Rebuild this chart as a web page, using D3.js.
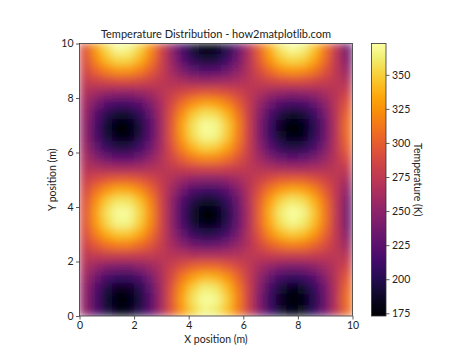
<!DOCTYPE html>
<html>
<head>
<meta charset="utf-8">
<script src="https://cdn.jsdelivr.net/npm/d3@7"></script>
<style>
  html, body { margin: 0; padding: 0; background: #fff; }
  svg text { font-family: Lato, "Open Sans", "DejaVu Sans", sans-serif; fill: #222; }
</style>
</head>
<body>
<svg id="chart" width="474" height="355"></svg>
<script>
// cell centres (m), 0.4 m cells
const xCenters = [0.2,0.6,1.0,1.4,1.8,2.2,2.6,3.0,3.4,3.8,4.2,4.6,5.0,5.4,5.8,6.2,6.6,7.0,7.4,7.8,8.2,8.6,9.0,9.4,9.8];
// rows listed from top (y = 9.8) down to bottom (y = 0.2)
const yCenters = [9.8,9.4,9.0,8.6,8.2,7.8,7.4,7.0,6.6,6.2,5.8,5.4,5.0,4.6,4.2,3.8,3.4,3.0,2.6,2.2,1.8,1.4,1.0,0.6,0.2];

// temperature (K), one row per yCenter
const temps = [
  [293,328,355,370,368,352,324,287,248,213,188,176,179,197,227,265,304,337,361,371,365,345,313,275,237],
  [289,320,342,354,353,340,316,285,252,223,201,191,194,209,235,266,299,327,347,355,351,334,307,275,243],
  [284,304,318,326,326,317,301,281,259,240,226,219,221,231,248,269,290,308,322,327,324,313,295,274,253],
  [276,283,287,290,290,287,282,275,269,263,258,256,257,260,265,272,278,284,288,290,289,285,280,273,267],
  [268,260,254,251,251,255,261,270,279,287,293,296,295,291,284,275,266,258,253,250,252,256,264,272,281],
  [261,240,223,215,216,225,243,265,288,309,324,332,329,319,300,278,255,234,220,214,218,230,249,272,295],
  [256,225,201,189,190,204,229,261,295,325,348,358,355,339,313,280,246,217,196,187,192,210,238,271,304],
  [253,217,190,175,177,193,222,259,298,334,359,371,368,350,319,281,242,208,184,174,180,200,232,271,309],
  [254,218,192,178,179,195,223,259,298,332,357,369,366,348,318,281,243,209,186,176,182,202,233,271,308],
  [257,228,206,195,196,209,232,262,293,321,342,352,349,334,310,280,248,221,202,194,199,215,240,271,302],
  [263,245,232,225,225,233,248,266,286,303,316,322,320,311,296,277,258,241,229,224,227,237,253,272,291],
  [271,267,264,262,262,264,267,271,276,280,283,284,284,282,278,274,270,266,263,262,262,265,268,273,277],
  [279,289,297,301,301,296,288,277,266,256,248,245,246,251,260,271,282,292,299,301,300,294,285,274,263],
  [286,309,326,336,335,324,306,282,257,234,218,210,212,224,243,268,293,315,330,336,333,320,299,275,250],
  [291,323,348,360,359,345,319,285,250,219,196,185,188,205,232,266,301,331,353,362,356,338,310,275,241],
  [293,329,357,371,370,353,324,287,248,212,186,174,177,196,227,265,304,338,363,373,367,346,314,275,237],
  [292,327,353,367,366,350,322,286,249,215,190,178,182,199,229,265,303,335,358,368,362,343,312,275,238],
  [288,316,336,347,346,334,312,284,254,227,207,198,201,215,238,267,297,323,341,348,344,328,304,275,245],
  [282,298,310,316,316,308,296,279,262,246,235,229,231,239,253,269,287,302,312,317,314,305,291,274,257],
  [274,276,278,278,278,277,276,274,272,270,268,268,268,269,270,273,275,277,278,278,278,277,275,273,271],
  [266,254,244,240,240,246,255,268,282,294,303,307,306,299,289,276,262,251,242,239,241,248,259,272,285],
  [259,235,216,206,207,218,238,263,290,315,332,341,338,326,305,279,252,228,212,205,209,223,245,271,298],
  [255,222,196,183,184,199,226,260,296,329,352,364,360,343,315,281,245,213,191,182,187,206,235,271,306],
  [253,217,189,175,176,192,221,259,299,334,360,372,369,350,319,281,242,207,183,173,179,200,232,271,310],
  [254,220,195,181,182,198,225,260,297,330,354,366,362,345,316,281,244,212,189,180,185,205,235,271,307]
];

const axisTicks = [0, 2, 4, 6, 8, 10];
const cbarTicks = [175, 200, 225, 250, 275, 300, 325, 350];
const tempRange = [173, 373];
const cellSize = 0.4;

const svg = d3.select('#chart');
const plot = { left: 79.5, top: 43.5, right: 352.5, bottom: 316 };

const x = d3.scaleLinear().domain([0, 10]).range([plot.left, plot.right]);
const y = d3.scaleLinear().domain([0, 10]).range([plot.bottom, plot.top]);
const color = d3.scaleSequential(d3.interpolateInferno).domain(tempRange);

const defs = svg.append('defs');

// soften the coarse cells so the field looks continuous
const blur = defs.append('filter')
  .attr('id', 'smooth')
  .attr('filterUnits', 'userSpaceOnUse')
  .attr('x', plot.left).attr('y', plot.top)
  .attr('width', plot.right - plot.left).attr('height', plot.bottom - plot.top);
blur.append('feGaussianBlur').attr('stdDeviation', 4.5).attr('edgeMode', 'duplicate');

defs.append('clipPath').attr('id', 'plot-clip')
  .append('rect')
  .attr('x', plot.left).attr('y', plot.top)
  .attr('width', plot.right - plot.left).attr('height', plot.bottom - plot.top);

// flatten grid into cells
const cells = [];
temps.forEach((row, i) => {
  row.forEach((t, j) => cells.push({ xc: xCenters[j], yc: yCenters[i], t }));
});

const heat = svg.append('g').attr('clip-path', 'url(#plot-clip)')
  .append('g').attr('filter', 'url(#smooth)');

heat.selectAll('rect')
  .data(cells)
  .enter().append('rect')
  .attr('x', d => x(d.xc - cellSize / 2) - 0.3)
  .attr('y', d => y(d.yc + cellSize / 2) - 0.3)
  .attr('width', x(cellSize) - x(0) + 0.6)
  .attr('height', y(0) - y(cellSize) + 0.6)
  .attr('fill', d => color(d.t));

// axes
const xAxis = d3.axisBottom(x).tickValues(axisTicks).tickSize(3.5).tickPadding(2.5).tickFormat(d3.format('d'));
const yAxis = d3.axisLeft(y).tickValues(axisTicks).tickSize(3.5).tickPadding(2.5).tickFormat(d3.format('d'));

const gx = svg.append('g').attr('transform', `translate(0,${plot.bottom})`).call(xAxis);
const gy = svg.append('g').attr('transform', `translate(${plot.left},0)`).call(yAxis);

[gx, gy].forEach(g => {
  g.select('.domain').remove();
  g.selectAll('line').attr('stroke', '#333').attr('stroke-width', 0.8);
  g.selectAll('text').style('font-size', '10.5px').attr('fill', '#333');
});

// frame
svg.append('rect')
  .attr('x', plot.left).attr('y', plot.top)
  .attr('width', plot.right - plot.left).attr('height', plot.bottom - plot.top)
  .attr('fill', 'none').attr('stroke', '#333').attr('stroke-width', 0.8);

// labels
svg.append('text')
  .attr('x', (plot.left + plot.right) / 2).attr('y', 38)
  .attr('text-anchor', 'middle').style('font-size', '11px')
  .text('Temperature Distribution - how2matplotlib.com');

svg.append('text')
  .attr('x', (plot.left + plot.right) / 2).attr('y', 343)
  .attr('text-anchor', 'middle').style('font-size', '10.5px')
  .text('X position (m)');

svg.append('text')
  .attr('transform', `translate(56,${(plot.top + plot.bottom) / 2}) rotate(-90)`)
  .attr('text-anchor', 'middle').style('font-size', '10.5px')
  .text('Y position (m)');

// colorbar
const cbar = { left: 371.5, width: 14.5, top: plot.top, bottom: plot.bottom };
const cy = d3.scaleLinear().domain(tempRange).range([cbar.bottom, cbar.top]);

const grad = defs.append('linearGradient')
  .attr('id', 'cbar-grad')
  .attr('x1', 0).attr('y1', 1).attr('x2', 0).attr('y2', 0);
grad.selectAll('stop')
  .data(d3.range(0, 1.0001, 0.05))
  .enter().append('stop')
  .attr('offset', d => d)
  .attr('stop-color', d => d3.interpolateInferno(d));

svg.append('rect')
  .attr('x', cbar.left).attr('y', cbar.top)
  .attr('width', cbar.width).attr('height', cbar.bottom - cbar.top)
  .attr('fill', 'url(#cbar-grad)')
  .attr('stroke', '#333').attr('stroke-width', 0.8);

const cAxis = d3.axisRight(cy).tickValues(cbarTicks).tickSize(3.5).tickPadding(2.5);
const gc = svg.append('g').attr('transform', `translate(${cbar.left + cbar.width},0)`).call(cAxis);
gc.select('.domain').remove();
gc.selectAll('line').attr('stroke', '#333').attr('stroke-width', 0.8);
gc.selectAll('text').style('font-size', '10.5px').attr('fill', '#333');

svg.append('text')
  .attr('transform', `translate(414,${(cbar.top + cbar.bottom) / 2}) rotate(90)`)
  .attr('text-anchor', 'middle').style('font-size', '10.5px')
  .text('Temperature (K)');
</script>
</body>
</html>
